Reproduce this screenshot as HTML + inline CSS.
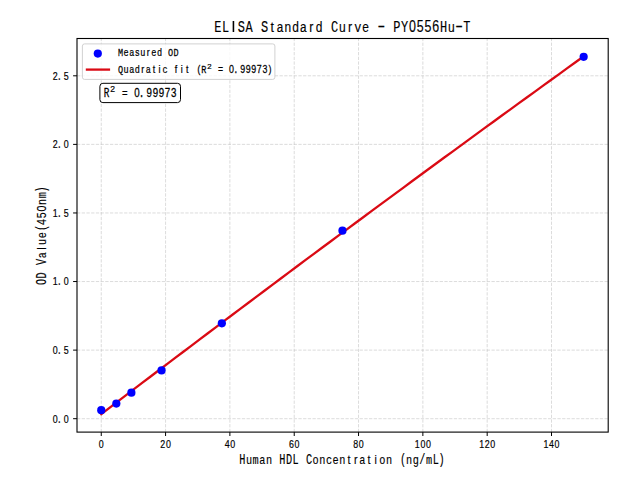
<!DOCTYPE html><html><head><meta charset="utf-8"><style>html,body{margin:0;padding:0;background:#fff;width:640px;height:480px;overflow:hidden}svg{display:block}text{fill:#000;text-anchor:middle}.m{font-family:"Liberation Mono",monospace}.s{font-family:"Liberation Sans",sans-serif}</style></head><body>
<svg width="640" height="480" viewBox="0 0 640 480">
<rect width="640" height="480" fill="#fff"/>
<path d="M101.25 432.10V38.50 M165.57 432.10V38.50 M229.89 432.10V38.50 M294.22 432.10V38.50 M358.54 432.10V38.50 M422.86 432.10V38.50 M487.18 432.10V38.50 M551.50 432.10V38.50 M77.00 418.70H608.20 M77.00 350.12H608.20 M77.00 281.54H608.20 M77.00 212.96H608.20 M77.00 144.38H608.20 M77.00 75.80H608.20" fill="none" stroke="#b0b0b0" stroke-opacity="0.5" stroke-width="0.89" stroke-dasharray="3.29 1.42"/>
<polyline points="101.25,414.08 109.43,407.85 117.60,401.61 125.78,395.39 133.96,389.17 142.13,382.95 150.31,376.75 158.49,370.54 166.66,364.35 174.84,358.16 183.02,351.98 191.19,345.80 199.37,339.63 207.54,333.46 215.72,327.30 223.90,321.15 232.07,315.00 240.25,308.86 248.43,302.73 256.60,296.60 264.78,290.47 272.96,284.36 281.13,278.25 289.31,272.14 297.49,266.04 305.66,259.95 313.84,253.86 322.02,247.78 330.19,241.71 338.37,235.64 346.55,229.58 354.72,223.52 362.90,217.47 371.08,211.43 379.25,205.39 387.43,199.36 395.60,193.33 403.78,187.31 411.96,181.30 420.13,175.29 428.31,169.29 436.49,163.29 444.66,157.30 452.84,151.32 461.02,145.34 469.19,139.37 477.37,133.40 485.55,127.44 493.72,121.49 501.90,115.54 510.08,109.60 518.25,103.67 526.43,97.74 534.61,91.81 542.78,85.90 550.96,79.99 559.14,74.08 567.31,68.18 575.49,62.29 583.66,56.40" fill="none" stroke="#da0a14" stroke-width="2.3" stroke-linecap="square"/>
<circle cx="101.25" cy="410.20" r="4.1" fill="#0000ff"/>
<circle cx="116.33" cy="403.60" r="4.1" fill="#0000ff"/>
<circle cx="131.40" cy="392.70" r="4.1" fill="#0000ff"/>
<circle cx="161.55" cy="370.40" r="4.1" fill="#0000ff"/>
<circle cx="221.85" cy="323.30" r="4.1" fill="#0000ff"/>
<circle cx="342.46" cy="230.70" r="4.1" fill="#0000ff"/>
<circle cx="583.66" cy="56.80" r="4.1" fill="#0000ff"/>
<rect x="77.00" y="38.50" width="531.20" height="393.60" fill="none" stroke="#000" stroke-width="1.1"/>
<path d="M101.25 432.10v3.9 M165.57 432.10v3.9 M229.89 432.10v3.9 M294.22 432.10v3.9 M358.54 432.10v3.9 M422.86 432.10v3.9 M487.18 432.10v3.9 M551.50 432.10v3.9 M77.00 418.70h-3.9 M77.00 350.12h-3.9 M77.00 281.54h-3.9 M77.00 212.96h-3.9 M77.00 144.38h-3.9 M77.00 75.80h-3.9" stroke="#000" stroke-width="1.0"/>
<text class="s" font-size="8.86" transform="translate(101.25 447.90) scale(1.000 1.270)" stroke="#000" stroke-width="0.15">0</text>
<text class="s" font-size="8.86" transform="translate(162.80 447.90) scale(1.000 1.270)" stroke="#000" stroke-width="0.15">2</text><text class="s" font-size="8.86" transform="translate(168.35 447.90) scale(1.000 1.270)" stroke="#000" stroke-width="0.15">0</text>
<text class="s" font-size="8.86" transform="translate(227.12 447.90) scale(1.000 1.270)" stroke="#000" stroke-width="0.15">4</text><text class="s" font-size="8.86" transform="translate(232.67 447.90) scale(1.000 1.270)" stroke="#000" stroke-width="0.15">0</text>
<text class="s" font-size="8.86" transform="translate(291.44 447.90) scale(1.000 1.270)" stroke="#000" stroke-width="0.15">6</text><text class="s" font-size="8.86" transform="translate(296.99 447.90) scale(1.000 1.270)" stroke="#000" stroke-width="0.15">0</text>
<text class="s" font-size="8.86" transform="translate(355.76 447.90) scale(1.000 1.270)" stroke="#000" stroke-width="0.15">8</text><text class="s" font-size="8.86" transform="translate(361.31 447.90) scale(1.000 1.270)" stroke="#000" stroke-width="0.15">0</text>
<text class="s" font-size="8.86" transform="translate(417.31 447.90) scale(1.000 1.270)" stroke="#000" stroke-width="0.15">1</text><text class="s" font-size="8.86" transform="translate(422.86 447.90) scale(1.000 1.270)" stroke="#000" stroke-width="0.15">0</text><text class="s" font-size="8.86" transform="translate(428.41 447.90) scale(1.000 1.270)" stroke="#000" stroke-width="0.15">0</text>
<text class="s" font-size="8.86" transform="translate(481.63 447.90) scale(1.000 1.270)" stroke="#000" stroke-width="0.15">1</text><text class="s" font-size="8.86" transform="translate(487.18 447.90) scale(1.000 1.270)" stroke="#000" stroke-width="0.15">2</text><text class="s" font-size="8.86" transform="translate(492.73 447.90) scale(1.000 1.270)" stroke="#000" stroke-width="0.15">0</text>
<text class="s" font-size="8.86" transform="translate(545.95 447.90) scale(1.000 1.270)" stroke="#000" stroke-width="0.15">1</text><text class="s" font-size="8.86" transform="translate(551.50 447.90) scale(1.000 1.270)" stroke="#000" stroke-width="0.15">4</text><text class="s" font-size="8.86" transform="translate(557.05 447.90) scale(1.000 1.270)" stroke="#000" stroke-width="0.15">0</text>
<text class="s" font-size="8.86" transform="translate(55.12 422.50) scale(1.000 1.270)" stroke="#000" stroke-width="0.15">0</text><text class="m" font-size="9.25" transform="translate(59.29 422.50) scale(0.920 1.270)" stroke="#000" stroke-width="0.15">.</text><text class="s" font-size="8.86" transform="translate(66.22 422.50) scale(1.000 1.270)" stroke="#000" stroke-width="0.15">0</text>
<text class="s" font-size="8.86" transform="translate(55.12 353.92) scale(1.000 1.270)" stroke="#000" stroke-width="0.15">0</text><text class="m" font-size="9.25" transform="translate(59.29 353.92) scale(0.920 1.270)" stroke="#000" stroke-width="0.15">.</text><text class="s" font-size="8.86" transform="translate(66.22 353.92) scale(1.000 1.270)" stroke="#000" stroke-width="0.15">5</text>
<text class="s" font-size="8.86" transform="translate(55.12 285.34) scale(1.000 1.270)" stroke="#000" stroke-width="0.15">1</text><text class="m" font-size="9.25" transform="translate(59.29 285.34) scale(0.920 1.270)" stroke="#000" stroke-width="0.15">.</text><text class="s" font-size="8.86" transform="translate(66.22 285.34) scale(1.000 1.270)" stroke="#000" stroke-width="0.15">0</text>
<text class="s" font-size="8.86" transform="translate(55.12 216.76) scale(1.000 1.270)" stroke="#000" stroke-width="0.15">1</text><text class="m" font-size="9.25" transform="translate(59.29 216.76) scale(0.920 1.270)" stroke="#000" stroke-width="0.15">.</text><text class="s" font-size="8.86" transform="translate(66.22 216.76) scale(1.000 1.270)" stroke="#000" stroke-width="0.15">5</text>
<text class="s" font-size="8.86" transform="translate(55.12 148.18) scale(1.000 1.270)" stroke="#000" stroke-width="0.15">2</text><text class="m" font-size="9.25" transform="translate(59.29 148.18) scale(0.920 1.270)" stroke="#000" stroke-width="0.15">.</text><text class="s" font-size="8.86" transform="translate(66.22 148.18) scale(1.000 1.270)" stroke="#000" stroke-width="0.15">0</text>
<text class="s" font-size="8.86" transform="translate(55.12 79.60) scale(1.000 1.270)" stroke="#000" stroke-width="0.15">2</text><text class="m" font-size="9.25" transform="translate(59.29 79.60) scale(0.920 1.270)" stroke="#000" stroke-width="0.15">.</text><text class="s" font-size="8.86" transform="translate(66.22 79.60) scale(1.000 1.270)" stroke="#000" stroke-width="0.15">5</text>
<text class="m" font-size="12.97" transform="translate(217.87 31.50) scale(0.920 1.270)" stroke="#000" stroke-width="0.12">E</text><text class="m" font-size="12.97" transform="translate(225.65 31.50) scale(0.920 1.270)" stroke="#000" stroke-width="0.12">L</text><rect x="232.65" y="21.00" width="1.56" height="11.00" fill="#000"/><text class="m" font-size="12.97" transform="translate(241.21 31.50) scale(0.920 1.270)" stroke="#000" stroke-width="0.12">S</text><text class="m" font-size="12.97" transform="translate(248.99 31.50) scale(0.920 1.270)" stroke="#000" stroke-width="0.12">A</text><text class="m" font-size="12.97" transform="translate(264.55 31.50) scale(0.920 1.270)" stroke="#000" stroke-width="0.12">S</text><text class="s" font-size="12.42" transform="translate(272.33 31.50) scale(1.000 1.150)" stroke="#000" stroke-width="0.12">t</text><text class="m" font-size="12.97" transform="translate(280.11 31.50) scale(0.920 1.150)" stroke="#000" stroke-width="0.12">a</text><text class="m" font-size="12.97" transform="translate(287.89 31.50) scale(0.920 1.150)" stroke="#000" stroke-width="0.12">n</text><text class="m" font-size="12.97" transform="translate(295.67 31.50) scale(0.920 1.150)" stroke="#000" stroke-width="0.12">d</text><text class="m" font-size="12.97" transform="translate(303.45 31.50) scale(0.920 1.150)" stroke="#000" stroke-width="0.12">a</text><text class="s" font-size="12.42" transform="translate(311.23 31.50) scale(1.000 1.150)" stroke="#000" stroke-width="0.12">r</text><text class="m" font-size="12.97" transform="translate(319.01 31.50) scale(0.920 1.150)" stroke="#000" stroke-width="0.12">d</text><text class="m" font-size="12.97" transform="translate(334.57 31.50) scale(0.920 1.270)" stroke="#000" stroke-width="0.12">C</text><text class="m" font-size="12.97" transform="translate(342.35 31.50) scale(0.920 1.150)" stroke="#000" stroke-width="0.12">u</text><text class="s" font-size="12.42" transform="translate(350.13 31.50) scale(1.000 1.150)" stroke="#000" stroke-width="0.12">r</text><text class="m" font-size="12.97" transform="translate(357.91 31.50) scale(0.920 1.150)" stroke="#000" stroke-width="0.12">v</text><text class="m" font-size="12.97" transform="translate(365.69 31.50) scale(0.920 1.150)" stroke="#000" stroke-width="0.12">e</text><text class="m" font-size="12.97" transform="translate(381.25 31.50) scale(0.920 1.270)" stroke="#000" stroke-width="0.12">−</text><text class="m" font-size="12.97" transform="translate(396.81 31.50) scale(0.920 1.270)" stroke="#000" stroke-width="0.12">P</text><text class="m" font-size="12.97" transform="translate(404.59 31.50) scale(0.920 1.270)" stroke="#000" stroke-width="0.12">Y</text><text class="s" font-size="12.42" transform="translate(412.37 31.50) scale(1.000 1.270)" stroke="#000" stroke-width="0.12">0</text><text class="s" font-size="12.42" transform="translate(420.15 31.50) scale(1.000 1.270)" stroke="#000" stroke-width="0.12">5</text><text class="s" font-size="12.42" transform="translate(427.93 31.50) scale(1.000 1.270)" stroke="#000" stroke-width="0.12">5</text><text class="s" font-size="12.42" transform="translate(435.71 31.50) scale(1.000 1.270)" stroke="#000" stroke-width="0.12">6</text><text class="m" font-size="12.97" transform="translate(443.49 31.50) scale(0.920 1.270)" stroke="#000" stroke-width="0.12">H</text><text class="m" font-size="12.97" transform="translate(451.27 31.50) scale(0.920 1.150)" stroke="#000" stroke-width="0.12">u</text><text class="m" font-size="12.97" transform="translate(459.05 31.50) scale(0.920 1.270)" stroke="#000" stroke-width="0.12">−</text><text class="m" font-size="12.97" transform="translate(466.83 31.50) scale(0.920 1.270)" stroke="#000" stroke-width="0.12">T</text>
<text class="m" font-size="11.12" transform="translate(242.30 463.60) scale(0.920 1.270)" stroke="#000" stroke-width="0.12">H</text><text class="m" font-size="11.12" transform="translate(248.97 463.60) scale(0.920 1.150)" stroke="#000" stroke-width="0.12">u</text><text class="m" font-size="11.12" transform="translate(255.64 463.60) scale(0.920 1.150)" stroke="#000" stroke-width="0.12">m</text><text class="m" font-size="11.12" transform="translate(262.31 463.60) scale(0.920 1.150)" stroke="#000" stroke-width="0.12">a</text><text class="m" font-size="11.12" transform="translate(268.98 463.60) scale(0.920 1.150)" stroke="#000" stroke-width="0.12">n</text><text class="m" font-size="11.12" transform="translate(282.32 463.60) scale(0.920 1.270)" stroke="#000" stroke-width="0.12">H</text><text class="m" font-size="11.12" transform="translate(288.99 463.60) scale(0.920 1.270)" stroke="#000" stroke-width="0.12">D</text><text class="m" font-size="11.12" transform="translate(295.66 463.60) scale(0.920 1.270)" stroke="#000" stroke-width="0.12">L</text><text class="m" font-size="11.12" transform="translate(309.00 463.60) scale(0.920 1.270)" stroke="#000" stroke-width="0.12">C</text><text class="m" font-size="11.12" transform="translate(315.67 463.60) scale(0.920 1.150)" stroke="#000" stroke-width="0.12">o</text><text class="m" font-size="11.12" transform="translate(322.34 463.60) scale(0.920 1.150)" stroke="#000" stroke-width="0.12">n</text><text class="m" font-size="11.12" transform="translate(329.01 463.60) scale(0.920 1.150)" stroke="#000" stroke-width="0.12">c</text><text class="m" font-size="11.12" transform="translate(335.68 463.60) scale(0.920 1.150)" stroke="#000" stroke-width="0.12">e</text><text class="m" font-size="11.12" transform="translate(342.35 463.60) scale(0.920 1.150)" stroke="#000" stroke-width="0.12">n</text><text class="s" font-size="10.65" transform="translate(349.02 463.60) scale(1.000 1.150)" stroke="#000" stroke-width="0.12">t</text><text class="s" font-size="10.65" transform="translate(355.69 463.60) scale(1.000 1.150)" stroke="#000" stroke-width="0.12">r</text><text class="m" font-size="11.12" transform="translate(362.36 463.60) scale(0.920 1.150)" stroke="#000" stroke-width="0.12">a</text><text class="s" font-size="10.65" transform="translate(369.03 463.60) scale(1.000 1.150)" stroke="#000" stroke-width="0.12">t</text><text class="s" font-size="10.65" transform="translate(375.70 463.60) scale(1.000 1.150)" stroke="#000" stroke-width="0.12">i</text><text class="m" font-size="11.12" transform="translate(382.37 463.60) scale(0.920 1.150)" stroke="#000" stroke-width="0.12">o</text><text class="m" font-size="11.12" transform="translate(389.04 463.60) scale(0.920 1.150)" stroke="#000" stroke-width="0.12">n</text><text class="m" font-size="11.12" transform="translate(403.18 463.60) scale(0.920 1.270)" stroke="#000" stroke-width="0.12">(</text><text class="m" font-size="11.12" transform="translate(409.05 463.60) scale(0.920 1.150)" stroke="#000" stroke-width="0.12">n</text><text class="m" font-size="11.12" transform="translate(415.72 463.60) scale(0.920 1.150)" stroke="#000" stroke-width="0.12">g</text><text class="m" font-size="11.12" transform="translate(422.39 463.60) scale(0.920 1.270)" stroke="#000" stroke-width="0.12">/</text><text class="m" font-size="11.12" transform="translate(429.06 463.60) scale(0.920 1.150)" stroke="#000" stroke-width="0.12">m</text><text class="m" font-size="11.12" transform="translate(435.73 463.60) scale(0.920 1.270)" stroke="#000" stroke-width="0.12">L</text><text class="m" font-size="11.12" transform="translate(441.60 463.60) scale(0.920 1.270)" stroke="#000" stroke-width="0.12">)</text>
<text class="m" font-size="11.12" transform="translate(45.80 235.30) rotate(-90) translate(-46.69 0.00) scale(0.920 1.270)" stroke="#000" stroke-width="0.12">O</text><text class="m" font-size="11.12" transform="translate(45.80 235.30) rotate(-90) translate(-40.02 0.00) scale(0.920 1.270)" stroke="#000" stroke-width="0.12">D</text><text class="m" font-size="11.12" transform="translate(45.80 235.30) rotate(-90) translate(-26.68 0.00) scale(0.920 1.270)" stroke="#000" stroke-width="0.12">V</text><text class="m" font-size="11.12" transform="translate(45.80 235.30) rotate(-90) translate(-20.01 0.00) scale(0.920 1.150)" stroke="#000" stroke-width="0.12">a</text><text class="s" font-size="10.65" transform="translate(45.80 235.30) rotate(-90) translate(-13.34 0.00) scale(1.000 1.150)" stroke="#000" stroke-width="0.12">l</text><text class="m" font-size="11.12" transform="translate(45.80 235.30) rotate(-90) translate(-6.67 0.00) scale(0.920 1.150)" stroke="#000" stroke-width="0.12">u</text><text class="m" font-size="11.12" transform="translate(45.80 235.30) rotate(-90) translate(0.00 0.00) scale(0.920 1.150)" stroke="#000" stroke-width="0.12">e</text><text class="m" font-size="11.12" transform="translate(45.80 235.30) rotate(-90) translate(7.47 0.00) scale(0.920 1.270)" stroke="#000" stroke-width="0.12">(</text><text class="s" font-size="10.65" transform="translate(45.80 235.30) rotate(-90) translate(13.34 0.00) scale(1.000 1.270)" stroke="#000" stroke-width="0.12">4</text><text class="s" font-size="10.65" transform="translate(45.80 235.30) rotate(-90) translate(20.01 0.00) scale(1.000 1.270)" stroke="#000" stroke-width="0.12">5</text><text class="s" font-size="10.65" transform="translate(45.80 235.30) rotate(-90) translate(26.68 0.00) scale(1.000 1.270)" stroke="#000" stroke-width="0.12">0</text><text class="m" font-size="11.12" transform="translate(45.80 235.30) rotate(-90) translate(33.35 0.00) scale(0.920 1.150)" stroke="#000" stroke-width="0.12">n</text><text class="m" font-size="11.12" transform="translate(45.80 235.30) rotate(-90) translate(40.02 0.00) scale(0.920 1.150)" stroke="#000" stroke-width="0.12">m</text><text class="m" font-size="11.12" transform="translate(45.80 235.30) rotate(-90) translate(45.89 0.00) scale(0.920 1.270)" stroke="#000" stroke-width="0.12">)</text>
<rect x="82.4" y="43.9" width="192.5" height="35.5" rx="2.2" fill="#fff" fill-opacity="0.8" stroke="#cccccc" stroke-width="0.9"/>
<circle cx="97.8" cy="53.6" r="4.1" fill="#0000ff"/>
<path d="M85.8 69.6H110.1" stroke="#da0a14" stroke-width="2.3"/>
<text class="m" font-size="9.25" transform="translate(120.58 56.10) scale(0.920 1.270)" stroke="#000" stroke-width="0.20">M</text><text class="m" font-size="9.25" transform="translate(126.12 56.10) scale(0.920 1.150)" stroke="#000" stroke-width="0.20">e</text><text class="m" font-size="9.25" transform="translate(131.68 56.10) scale(0.920 1.150)" stroke="#000" stroke-width="0.20">a</text><text class="m" font-size="9.25" transform="translate(137.22 56.10) scale(0.920 1.150)" stroke="#000" stroke-width="0.20">s</text><text class="m" font-size="9.25" transform="translate(142.78 56.10) scale(0.920 1.150)" stroke="#000" stroke-width="0.20">u</text><text class="s" font-size="8.86" transform="translate(148.32 56.10) scale(1.000 1.150)" stroke="#000" stroke-width="0.20">r</text><text class="m" font-size="9.25" transform="translate(153.88 56.10) scale(0.920 1.150)" stroke="#000" stroke-width="0.20">e</text><text class="m" font-size="9.25" transform="translate(159.43 56.10) scale(0.920 1.150)" stroke="#000" stroke-width="0.20">d</text><text class="m" font-size="9.25" transform="translate(170.53 56.10) scale(0.920 1.270)" stroke="#000" stroke-width="0.20">O</text><text class="m" font-size="9.25" transform="translate(176.07 56.10) scale(0.920 1.270)" stroke="#000" stroke-width="0.20">D</text>
<text class="m" font-size="9.25" transform="translate(120.58 73.40) scale(0.920 1.270)" stroke="#000" stroke-width="0.20">Q</text><text class="m" font-size="9.25" transform="translate(126.12 73.40) scale(0.920 1.150)" stroke="#000" stroke-width="0.20">u</text><text class="m" font-size="9.25" transform="translate(131.68 73.40) scale(0.920 1.150)" stroke="#000" stroke-width="0.20">a</text><text class="m" font-size="9.25" transform="translate(137.22 73.40) scale(0.920 1.150)" stroke="#000" stroke-width="0.20">d</text><text class="s" font-size="8.86" transform="translate(142.78 73.40) scale(1.000 1.150)" stroke="#000" stroke-width="0.20">r</text><text class="m" font-size="9.25" transform="translate(148.32 73.40) scale(0.920 1.150)" stroke="#000" stroke-width="0.20">a</text><text class="s" font-size="8.86" transform="translate(153.88 73.40) scale(1.000 1.150)" stroke="#000" stroke-width="0.20">t</text><text class="s" font-size="8.86" transform="translate(159.43 73.40) scale(1.000 1.150)" stroke="#000" stroke-width="0.20">i</text><text class="m" font-size="9.25" transform="translate(164.97 73.40) scale(0.920 1.150)" stroke="#000" stroke-width="0.20">c</text><text class="s" font-size="8.86" transform="translate(176.07 73.40) scale(1.000 1.150)" stroke="#000" stroke-width="0.20">f</text><text class="s" font-size="8.86" transform="translate(181.62 73.40) scale(1.000 1.150)" stroke="#000" stroke-width="0.20">i</text><text class="s" font-size="8.86" transform="translate(187.18 73.40) scale(1.000 1.150)" stroke="#000" stroke-width="0.20">t</text><text class="m" font-size="9.25" transform="translate(198.94 73.40) scale(0.920 1.270)" stroke="#000" stroke-width="0.20">(</text><text class="m" font-size="9.25" transform="translate(203.82 73.40) scale(0.920 1.270)" stroke="#000" stroke-width="0.20">R</text><text class="s" font-size="7.80" transform="translate(209.38 69.24) scale(1.000 0.980)" stroke="#000" stroke-width="0.20">2</text><text class="m" font-size="9.25" transform="translate(220.47 73.40) scale(0.920 1.270)" stroke="#000" stroke-width="0.20">=</text><text class="s" font-size="8.86" transform="translate(231.57 73.40) scale(1.000 1.270)" stroke="#000" stroke-width="0.20">0</text><text class="m" font-size="9.25" transform="translate(235.74 73.40) scale(0.920 1.270)" stroke="#000" stroke-width="0.20">.</text><text class="s" font-size="8.86" transform="translate(242.68 73.40) scale(1.000 1.270)" stroke="#000" stroke-width="0.20">9</text><text class="s" font-size="8.86" transform="translate(248.22 73.40) scale(1.000 1.270)" stroke="#000" stroke-width="0.20">9</text><text class="s" font-size="8.86" transform="translate(253.77 73.40) scale(1.000 1.270)" stroke="#000" stroke-width="0.20">9</text><text class="s" font-size="8.86" transform="translate(259.32 73.40) scale(1.000 1.270)" stroke="#000" stroke-width="0.20">7</text><text class="s" font-size="8.86" transform="translate(264.88 73.40) scale(1.000 1.270)" stroke="#000" stroke-width="0.20">3</text><text class="m" font-size="9.25" transform="translate(269.76 73.40) scale(0.920 1.270)" stroke="#000" stroke-width="0.20">)</text>
<rect x="99.9" y="83.3" width="80.6" height="19.3" rx="3" fill="#fff" stroke="#000" stroke-width="1.0"/>
<text class="m" font-size="10.18" transform="translate(106.46 97.00) scale(0.920 1.270)" stroke="#000" stroke-width="0.20">R</text><text class="s" font-size="8.58" transform="translate(112.57 92.42) scale(1.000 0.980)" stroke="#000" stroke-width="0.20">2</text><text class="m" font-size="10.18" transform="translate(124.79 97.00) scale(0.920 1.270)" stroke="#000" stroke-width="0.20">=</text><text class="s" font-size="9.75" transform="translate(137.00 97.00) scale(1.000 1.270)" stroke="#000" stroke-width="0.20">0</text><text class="m" font-size="10.18" transform="translate(141.59 97.00) scale(0.920 1.270)" stroke="#000" stroke-width="0.20">.</text><text class="s" font-size="9.75" transform="translate(149.23 97.00) scale(1.000 1.270)" stroke="#000" stroke-width="0.20">9</text><text class="s" font-size="9.75" transform="translate(155.34 97.00) scale(1.000 1.270)" stroke="#000" stroke-width="0.20">9</text><text class="s" font-size="9.75" transform="translate(161.44 97.00) scale(1.000 1.270)" stroke="#000" stroke-width="0.20">9</text><text class="s" font-size="9.75" transform="translate(167.56 97.00) scale(1.000 1.270)" stroke="#000" stroke-width="0.20">7</text><text class="s" font-size="9.75" transform="translate(173.67 97.00) scale(1.000 1.270)" stroke="#000" stroke-width="0.20">3</text>
</svg></body></html>
